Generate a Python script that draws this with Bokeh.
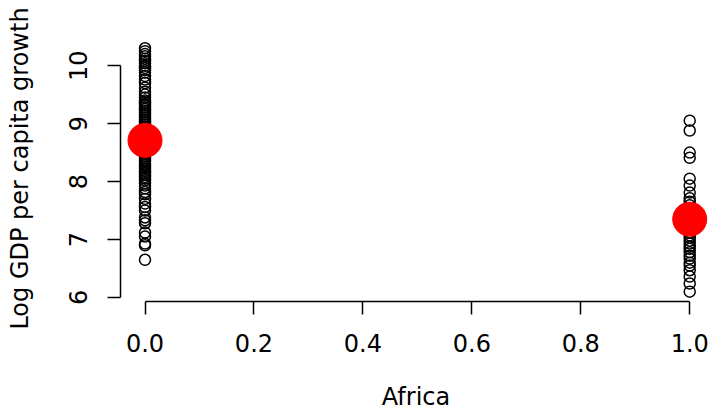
from bokeh.plotting import figure
from bokeh.models import FixedTicker, NumeralTickFormatter, Range1d
from bokeh.embed import file_html
from bokeh.resources import INLINE

# Log GDP per capita by Africa indicator (0 = outside Africa, 1 = Africa)
gdp_non_africa = [
    6.65, 6.90, 6.93, 7.05, 7.12, 7.28, 7.33, 7.38, 7.50, 7.56, 7.62, 7.70,
    7.78, 7.82, 7.88, 7.93, 7.97, 8.02, 8.05, 8.08, 8.12, 8.15, 8.18, 8.22,
    8.25, 8.28, 8.31, 8.35, 8.38, 8.41, 8.44, 8.47, 8.50, 8.53, 8.56, 8.59,
    8.62, 8.65, 8.68, 8.71, 8.74, 8.77, 8.80, 8.83, 8.86, 8.89, 8.92, 8.95,
    8.98, 9.01, 9.04, 9.07, 9.10, 9.13, 9.16, 9.19, 9.22, 9.25, 9.28, 9.31,
    9.34, 9.37, 9.40, 9.45, 9.50, 9.55, 9.62, 9.70, 9.76, 9.82, 9.88, 9.92,
    9.96, 10.00, 10.04, 10.08, 10.12, 10.16, 10.20, 10.25, 10.30,
]
gdp_africa = [
    6.10, 6.24, 6.36, 6.47, 6.55, 6.60, 6.67, 6.72, 6.78, 6.84, 6.88, 6.93,
    6.98, 7.03, 7.07, 7.12, 7.19, 7.24, 7.29, 7.33, 7.38, 7.42, 7.47, 7.52,
    7.59, 7.65, 7.71, 7.81, 7.93, 8.05, 8.41, 8.50, 8.88, 9.05,
]
groups = [0, 1]
group_means = [8.71, 7.35]

p = figure(
    width=711, height=413,
    x_range=Range1d(-0.045, 1.04), y_range=Range1d(5.93, 10.52),
    output_backend="svg", toolbar_location=None,
    min_border_left=120, min_border_right=0,
    min_border_top=35, min_border_bottom=112,
)
p.outline_line_color = None
p.grid.visible = False
p.background_fill_color = "white"
p.border_fill_color = "white"

p.scatter([groups[0]] * len(gdp_non_africa), gdp_non_africa, size=11,
          fill_color=None, line_color="black", line_width=1.5)
p.scatter([groups[1]] * len(gdp_africa), gdp_africa, size=11,
          fill_color=None, line_color="black", line_width=1.5)
p.scatter(groups, group_means, size=34, fill_color="red", line_color="red")

font = "DejaVu Sans"
for ax in (p.xaxis[0], p.yaxis[0]):
    ax.axis_line_color = "black"
    ax.axis_line_width = 1.5
    ax.major_tick_line_width = 1.5
    ax.major_tick_in = 0
    ax.major_tick_out = 13
    ax.minor_tick_line_color = None
    ax.major_label_text_font = font
    ax.major_label_text_font_size = "24px"
    ax.major_label_text_color = "black"
    ax.axis_label_text_font = font
    ax.axis_label_text_font_size = "24px"
    ax.axis_label_text_font_style = "normal"
    ax.axis_label_text_color = "black"

p.xaxis.major_label_standoff = 19
p.xaxis.axis_label_standoff = 28
p.yaxis.major_label_standoff = 20
p.yaxis.axis_label_standoff = 33

p.xaxis.ticker = FixedTicker(ticks=[0.0, 0.2, 0.4, 0.6, 0.8, 1.0])
p.xaxis.formatter = NumeralTickFormatter(format="0.0")
p.xaxis.bounds = (0, 1)
p.xaxis.axis_label = "Africa"

p.yaxis.ticker = FixedTicker(ticks=[6, 7, 8, 9, 10])
p.yaxis.bounds = (6, 10)
p.yaxis.major_label_orientation = "vertical"
p.yaxis.axis_label = "Log GDP per capita growth"

open("out.html", "w").write(file_html(p, INLINE))
